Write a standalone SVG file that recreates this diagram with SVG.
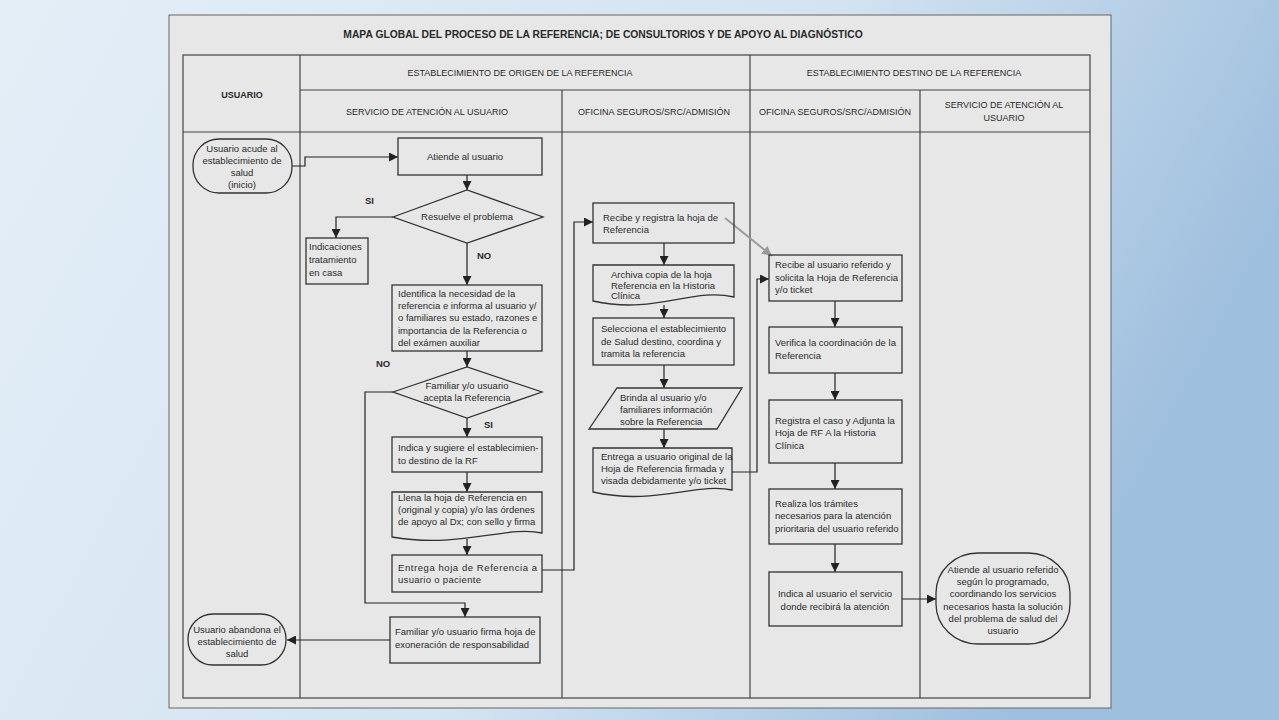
<svg xmlns="http://www.w3.org/2000/svg" width="1279" height="720" viewBox="0 0 1279 720">
<defs>
<linearGradient id="bg" x1="0" y1="0" x2="1" y2="0.3">
<stop offset="0" stop-color="#e4eef7"/>
<stop offset="0.6" stop-color="#d3e3f1"/>
<stop offset="1" stop-color="#9fbfde"/>
</linearGradient>
<marker id="ah" viewBox="0 0 10 10" refX="10" refY="5" markerWidth="9" markerHeight="9" markerUnits="userSpaceOnUse" orient="auto">
<path d="M0,0 L10,5 L0,10 z" fill="#222"/>
</marker>
<marker id="ahg" viewBox="0 0 10 10" refX="10" refY="5" markerWidth="10" markerHeight="10" markerUnits="userSpaceOnUse" orient="auto">
<path d="M0,0 L10,5 L0,10 z" fill="#9a9a9a"/>
</marker>
</defs>
<style>
.box{fill:none;stroke:#333;stroke-width:1.3}
.grid{stroke:#444;stroke-width:1.2;fill:none}
.t{font-family:"Liberation Sans",Arial,sans-serif;font-size:9.5px;fill:#2a2a2a}
.c{text-anchor:middle}
.b{font-weight:bold}
.h{font-family:"Liberation Sans",Arial,sans-serif;font-size:9px;fill:#2a2a2a;text-anchor:middle}
.con{fill:none;stroke:#222;stroke-width:1.2}
</style>
<rect x="0" y="0" width="1279" height="720" fill="url(#bg)"/>
<rect x="169" y="15" width="942" height="693" fill="#e7e7e7" stroke="#666" stroke-width="1"/>
<text x="603" y="38" class="t c b" style="font-size:10.3px">MAPA GLOBAL DEL PROCESO DE LA REFERENCIA; DE CONSULTORIOS Y DE APOYO AL DIAGNÓSTICO</text>

<g id="grid">
<rect x="183" y="55" width="907" height="643" class="grid"/>
<line x1="300" y1="90" x2="1090" y2="90" class="grid"/>
<line x1="183" y1="132" x2="1090" y2="132" class="grid"/>
<line x1="300" y1="55" x2="300" y2="698" class="grid"/>
<line x1="750" y1="55" x2="750" y2="698" class="grid"/>
<line x1="562" y1="90" x2="562" y2="698" class="grid"/>
<line x1="920" y1="90" x2="920" y2="698" class="grid"/>
<text x="242" y="98" class="h b">USUARIO</text>
<text x="520" y="76" class="h">ESTABLECIMIENTO DE ORIGEN DE LA REFERENCIA</text>
<text x="427" y="115" class="h">SERVICIO DE ATENCIÓN AL USUARIO</text>
<text x="654" y="115" class="h">OFICINA SEGUROS/SRC/ADMISIÓN</text>
<text x="914" y="76" class="h">ESTABLECIMIENTO DESTINO DE LA REFERENCIA</text>
<text x="835" y="115" class="h">OFICINA SEGUROS/SRC/ADMISIÓN</text>
<text x="1004" y="108" class="h">SERVICIO DE ATENCIÓN AL</text>
<text x="1004" y="121" class="h">USUARIO</text>
</g>

<g id="connectors">
<polyline points="292,166 305,166 305,157 398,157" class="con" marker-end="url(#ah)"/>
<line x1="467" y1="175" x2="467" y2="190" class="con" marker-end="url(#ah)"/>
<polyline points="393,217 336,217 336,238" class="con" marker-end="url(#ah)"/>
<line x1="467" y1="243" x2="467" y2="285" class="con" marker-end="url(#ah)"/>
<line x1="467" y1="351" x2="467" y2="367" class="con" marker-end="url(#ah)"/>
<polyline points="393,392 365,392 365,603 465,603 465,617" class="con" marker-end="url(#ah)"/>
<line x1="467" y1="418" x2="467" y2="437" class="con" marker-end="url(#ah)"/>
<line x1="467" y1="472" x2="467" y2="492" class="con" marker-end="url(#ah)"/>
<line x1="467" y1="539" x2="467" y2="555" class="con" marker-end="url(#ah)"/>
<polyline points="542,570 574,570 574,222 593,222" class="con" marker-end="url(#ah)"/>
<line x1="390" y1="640" x2="287" y2="640" class="con" marker-end="url(#ah)"/>
<line x1="664" y1="243" x2="664" y2="265" class="con" marker-end="url(#ah)"/>
<line x1="664" y1="305" x2="664" y2="318" class="con" marker-end="url(#ah)"/>
<line x1="664" y1="365" x2="664" y2="388" class="con" marker-end="url(#ah)"/>
<line x1="664" y1="429" x2="664" y2="448" class="con" marker-end="url(#ah)"/>
<polyline points="732,472 757,472 757,279 769,279" class="con" marker-end="url(#ah)"/>
<line x1="725" y1="218" x2="772" y2="256" stroke="#9a9a9a" stroke-width="2" marker-end="url(#ahg)"/>
<line x1="835" y1="301" x2="835" y2="327" class="con" marker-end="url(#ah)"/>
<line x1="835" y1="373" x2="835" y2="400" class="con" marker-end="url(#ah)"/>
<line x1="835" y1="463" x2="835" y2="489" class="con" marker-end="url(#ah)"/>
<line x1="835" y1="544" x2="835" y2="572" class="con" marker-end="url(#ah)"/>
<line x1="902" y1="599" x2="936" y2="599" class="con" marker-end="url(#ah)"/>
<text x="365" y="204" class="t b">SI</text>
<text x="477" y="259" class="t b">NO</text>
<text x="376" y="367" class="t b">NO</text>
<text x="484" y="428" class="t b">SI</text>
</g>

<g id="n-inicio">
<rect x="193" y="139" width="99" height="54" rx="26" ry="26" class="box"/>
<text class="t c" x="242" y="152">Usuario acude al</text>
<text class="t c" x="242" y="164">establecimiento de</text>
<text class="t c" x="242" y="176">salud</text>
<text class="t c" x="242" y="188">(inicio)</text>
</g>
<g id="n-atiende">
<rect x="398" y="138" width="144" height="37" class="box"/>
<text class="t c" x="465" y="160">Atiende al usuario</text>
</g>
<g id="n-resuelve">
<polygon points="393,217 467,190 543,217 467,243" class="box"/>
<text class="t c" x="467" y="220">Resuelve el problema</text>
</g>
<g id="n-indicaciones">
<rect x="306" y="238" width="62" height="46" class="box"/>
<text class="t" x="309" y="250">Indicaciones</text>
<text class="t" x="309" y="263">tratamiento</text>
<text class="t" x="309" y="276">en casa</text>
</g>
<g id="n-identifica">
<rect x="392" y="285" width="150" height="66" class="box"/>
<text class="t" x="398" y="297">Identifica la necesidad de la</text>
<text class="t" x="398" y="309">referencia e informa al usuario y/</text>
<text class="t" x="398" y="321">o familiares su estado, razones e</text>
<text class="t" x="398" y="334">importancia de la Referencia o</text>
<text class="t" x="398" y="346">del exámen auxiliar</text>
</g>
<g id="n-acepta">
<polygon points="393,392 467,367 542,392 467,418" class="box"/>
<text class="t c" x="467" y="389">Familiar y/o usuario</text>
<text class="t c" x="467" y="401">acepta la Referencia</text>
</g>
<g id="n-indica">
<rect x="392" y="437" width="150" height="35" class="box"/>
<text class="t" x="398" y="451">Indica y sugiere el establecimien-</text>
<text class="t" x="398" y="464">to destino de la RF</text>
</g>
<g id="n-llena">
<path d="M392,492 H542 V533 C507,525 460,549 392,537 Z" class="box"/>
<text class="t" x="398" y="501">Llena la hoja de Referencia en</text>
<text class="t" x="398" y="513">(original y copia) y/o las órdenes</text>
<text class="t" x="398" y="525">de apoyo al Dx; con sello y firma</text>
</g>
<g id="n-entrega">
<rect x="392" y="555" width="150" height="37" class="box"/>
<text class="t" x="398" y="571" textLength="139" lengthAdjust="spacing">Entrega hoja de Referencia a</text>
<text class="t" x="398" y="583" textLength="83" lengthAdjust="spacing">usuario o paciente</text>
</g>
<g id="n-exoneracion">
<rect x="390" y="617" width="150" height="46" class="box"/>
<text class="t" x="395" y="635">Familiar y/o usuario firma hoja de</text>
<text class="t" x="395" y="648">exoneración de responsabilidad</text>
</g>
<g id="n-abandona">
<rect x="188" y="614" width="98" height="51" rx="25" ry="25" class="box"/>
<text class="t c" x="237" y="633">Usuario abandona el</text>
<text class="t c" x="237" y="645">establecimiento de</text>
<text class="t c" x="237" y="657">salud</text>
</g>

<g id="n-recibe">
<rect x="593" y="203" width="141" height="40" class="box"/>
<text class="t" x="603" y="221">Recibe y registra la hoja de</text>
<text class="t" x="603" y="233">Referencia</text>
</g>
<g id="n-archiva">
<path d="M593,265 H734 V297 C692,287 656,315 593,301 Z" class="box"/>
<text class="t" x="611" y="278">Archiva copia de la hoja</text>
<text class="t" x="611" y="289">Referencia en la Historia</text>
<text class="t" x="611" y="299">Clínica</text>
</g>
<g id="n-selecciona">
<rect x="593" y="318" width="141" height="47" class="box"/>
<text class="t" x="601" y="332">Selecciona el establecimiento</text>
<text class="t" x="601" y="345">de Salud destino, coordina y</text>
<text class="t" x="601" y="357">tramita la referencia</text>
</g>
<g id="n-brinda">
<polygon points="617,388 742,388 717,429 589,429" class="box"/>
<text class="t" x="620" y="401">Brinda al usuario y/o</text>
<text class="t" x="620" y="413">familiares información</text>
<text class="t" x="620" y="425">sobre la Referencia</text>
</g>
<g id="n-entrega2">
<path d="M593,448 H732 V490 C697,482 655,506 593,492 Z" class="box"/>
<text class="t" x="601" y="460">Entrega a usuario original de la</text>
<text class="t" x="601" y="472">Hoja de Referencia firmada y</text>
<text class="t" x="601" y="484">visada debidamente y/o ticket</text>
</g>

<g id="n-recibe-usuario">
<rect x="769" y="255" width="133" height="46" class="box"/>
<text class="t" x="775" y="268">Recibe al usuario referido y</text>
<text class="t" x="775" y="281">solicita la Hoja de Referencia</text>
<text class="t" x="775" y="293">y/o ticket</text>
</g>
<g id="n-verifica">
<rect x="769" y="327" width="133" height="46" class="box"/>
<text class="t" x="775" y="346">Verifica la coordinación de la</text>
<text class="t" x="775" y="359">Referencia</text>
</g>
<g id="n-registra">
<rect x="769" y="400" width="133" height="63" class="box"/>
<text class="t" x="775" y="424">Registra el caso y Adjunta la</text>
<text class="t" x="775" y="436">Hoja de RF A la Historia</text>
<text class="t" x="775" y="449">Clínica</text>
</g>
<g id="n-realiza">
<rect x="769" y="489" width="133" height="55" class="box"/>
<text class="t" x="775" y="507">Realiza los trámites</text>
<text class="t" x="775" y="519">necesarios para la atención</text>
<text class="t" x="775" y="532">prioritaria del usuario referido</text>
</g>
<g id="n-indica-servicio">
<rect x="769" y="572" width="133" height="54" class="box"/>
<text class="t c" x="835" y="597">Indica al usuario el servicio</text>
<text class="t c" x="835" y="610">donde recibirá la atención</text>
</g>
<g id="n-atiende-referido">
<rect x="936" y="553" width="134" height="91" rx="42" ry="40" class="box"/>
<text class="t c" x="1003" y="573">Atiende al usuario referido</text>
<text class="t c" x="1003" y="585">según lo programado,</text>
<text class="t c" x="1003" y="597">coordinando los servicios</text>
<text class="t c" x="1003" y="610">necesarios hasta la solución</text>
<text class="t c" x="1003" y="622">del problema de salud del</text>
<text class="t c" x="1003" y="634">usuario</text>
</g>
</svg>
